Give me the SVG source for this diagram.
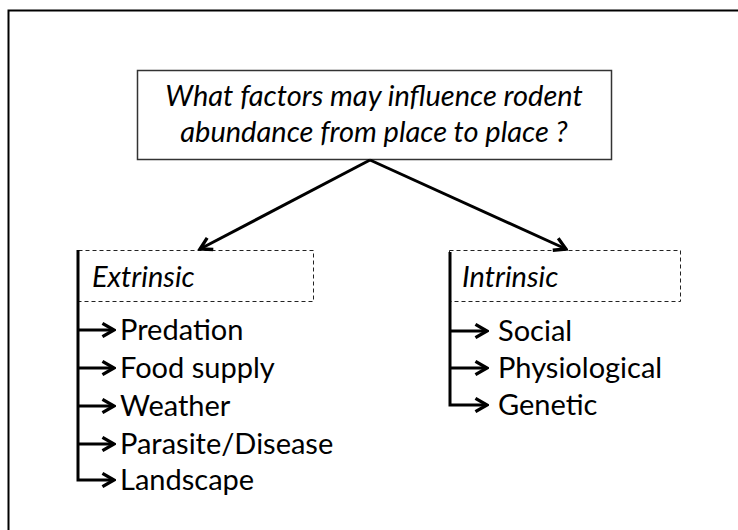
<svg xmlns="http://www.w3.org/2000/svg" width="738" height="530" viewBox="0 0 738 530">
<defs>
<style>
.t{font-family:Lato,"Open Sans","Liberation Sans",sans-serif;font-size:29px;fill:#000}
.i{font-style:italic}
.dash{fill:none;stroke:#222;stroke-width:1;stroke-dasharray:4 3}
.ln{fill:none;stroke:#000;stroke-width:3}
</style>
<marker id="ah" viewBox="0 0 10 10" refX="8.5" refY="5" markerWidth="5.5" markerHeight="5.5" orient="auto" markerUnits="strokeWidth">
<path d="M1.5,1 L8.5,5 L1.5,9" fill="none" stroke="#000" stroke-width="2"/>
</marker>
</defs>
<rect x="0" y="0" width="738" height="530" fill="#fff"/>
<rect x="8.5" y="10.5" width="740" height="530" fill="none" stroke="#000" stroke-width="2"/>
<g id="question">
<rect x="137.5" y="70.5" width="474" height="89" fill="#fff" stroke="#333" stroke-width="1.5"/>
<text class="t i" x="374" y="106" text-anchor="middle">What factors may influence rodent</text>
<text class="t i" x="374" y="142" text-anchor="middle">abundance from place to place ?</text>
</g>
<g id="extrinsic">
<rect class="dash" x="78.5" y="250.5" width="235" height="51"/>
<text class="t i" x="92" y="287">Extrinsic</text>
<text class="t" x="120" y="340">Predation</text>
<text class="t" x="120" y="378">Food supply</text>
<text class="t" x="120" y="416">Weather</text>
<text class="t" x="120" y="454">Parasite/Disease</text>
<text class="t" x="120" y="490">Landscape</text>
</g>
<g id="intrinsic">
<rect class="dash" x="449.5" y="250.5" width="231" height="51"/>
<text class="t i" x="462" y="287">Intrinsic</text>
<text class="t" x="498" y="341">Social</text>
<text class="t" x="498" y="378">Physiological</text>
<text class="t" x="498" y="415">Genetic</text>
</g>
<g id="connectors">
<line class="ln" x1="370" y1="160" x2="200" y2="249" marker-end="url(#ah)"/>
<line class="ln" x1="370" y1="160" x2="566" y2="249" marker-end="url(#ah)"/>
<path class="ln" d="M78,250 V480 H114" marker-end="url(#ah)"/>
<line class="ln" x1="78" y1="330" x2="114" y2="330" marker-end="url(#ah)"/>
<line class="ln" x1="78" y1="368" x2="114" y2="368" marker-end="url(#ah)"/>
<line class="ln" x1="78" y1="406" x2="114" y2="406" marker-end="url(#ah)"/>
<line class="ln" x1="78" y1="444" x2="114" y2="444" marker-end="url(#ah)"/>
<path class="ln" d="M450,252 V405 H487" marker-end="url(#ah)"/>
<line class="ln" x1="450" y1="331" x2="487" y2="331" marker-end="url(#ah)"/>
<line class="ln" x1="450" y1="368" x2="487" y2="368" marker-end="url(#ah)"/>
</g>
</svg>
